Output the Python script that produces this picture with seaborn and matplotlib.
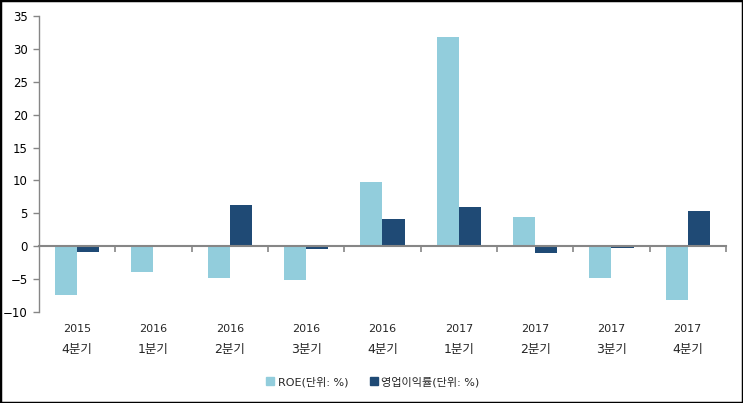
import numpy as np
import pandas as pd
import matplotlib
matplotlib.use('Agg')
import matplotlib.pyplot as plt
import seaborn as sns
from matplotlib.patches import Rectangle
from matplotlib.transforms import blended_transform_factory

years = ['2015', '2016', '2016', '2016', '2016', '2017', '2017', '2017', '2017']
quarters = ['4분기', '1분기', '2분기', '3분기', '4분기', '1분기', '2분기', '3분기', '4분기']
roe = [-7.4, -3.9, -4.8, -5.1, 9.8, 31.8, 4.4, -4.8, -8.2]
opm = [-0.85, 0.0, 6.2, -0.5, 4.1, 5.9, -1.0, -0.25, 5.3]
series_names = ['ROE(단위: %)', '영업이익률(단위: %)']
colors = ['#92CDDC', '#1F4A75']

cats = [f'{y}\n{q}' for y, q in zip(years, quarters)]
df = pd.DataFrame({
    'cat': cats * 2,
    'series': [series_names[0]] * len(cats) + [series_names[1]] * len(cats),
    'value': roe + opm,
})

sns.set_theme(style='white')
plt.rcParams['font.family'] = ['DejaVu Sans', 'Noto Sans CJK KR']

fig = plt.figure(figsize=(7.43, 4.03), dpi=100)
ax = fig.add_axes([0.0525, 0.226, 0.9245, 0.734])
sns.barplot(data=df, x='cat', y='value', hue='series', palette=colors,
            width=0.58, saturation=1, linewidth=0, ax=ax, legend=False)

ax.set_xlim(-0.5, len(cats) - 0.5)
ax.set_ylim(-10, 35)
ax.set_yticks(range(-10, 36, 5))
ax.set_ylabel('')
ax.set_xlabel('')

grey = '#868686'
for s in ['top', 'right']:
    ax.spines[s].set_visible(False)
ax.spines['left'].set_color(grey)
ax.spines['bottom'].set_color(grey)
ax.spines['bottom'].set_position(('data', 0))
ax.spines['bottom'].set_linewidth(1.5)
ax.spines['left'].set_linewidth(1.0)
ax.set_xticks(np.arange(0.5, len(cats), 1))
ax.set_xticklabels([])
ax.tick_params(axis='x', direction='out', length=4.5, width=1.2, color=grey, bottom=True)
ax.tick_params(axis='y', direction='out', length=4, width=1, color=grey, left=True,
               labelsize=8.5, labelcolor='black', pad=4)

trans = blended_transform_factory(ax.transData, fig.transFigure)
for i, (y, q) in enumerate(zip(years, quarters)):
    ax.text(i, 1 - 329 / 403, y, transform=trans, ha='center', va='center', fontsize=8)
    ax.text(i, 1 - 350 / 403, q, transform=trans, ha='center', va='center', fontsize=9)

handles = [Rectangle((0, 0), 1, 1, color=c) for c in colors]
fig.legend(handles, series_names, loc='center', bbox_to_anchor=(373 / 743, 1 - 382 / 403),
           ncol=2, frameon=False, fontsize=8, handlelength=0.7, handleheight=0.7,
           handletextpad=0.3, columnspacing=2.0)

fig.patches.append(Rectangle((0, 0), 1, 1, transform=fig.transFigure, fill=False,
                             edgecolor='black', linewidth=2.5))

fig.savefig('out.png', dpi=100)
